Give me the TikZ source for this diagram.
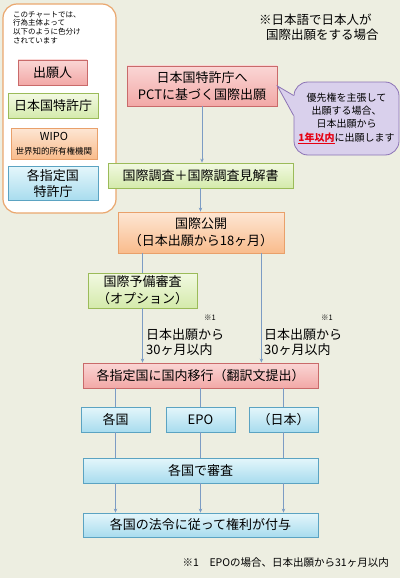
\documentclass[tikz,border=0pt]{standalone}
\usepackage{fontspec}
\setmainfont{Noto Sans CJK JP}
\usetikzlibrary{arrows.meta,calc}
\definecolor{bgbeige}{HTML}{EDEEE1}
\definecolor{pinktop}{HTML}{FAD6D5}
\definecolor{pinkbot}{HTML}{F2A8A6}
\definecolor{pinkline}{HTML}{C96A6A}
\definecolor{greentop}{HTML}{F2F9E2}
\definecolor{greenbot}{HTML}{D4EAAB}
\definecolor{greenline}{HTML}{9BBB59}
\definecolor{orangetop}{HTML}{FDE6D4}
\definecolor{orangebot}{HTML}{F9BC8C}
\definecolor{orangeline}{HTML}{E9A06A}
\definecolor{bluetop}{HTML}{E4F6FB}
\definecolor{bluebot}{HTML}{A8DCEE}
\definecolor{blueline}{HTML}{5BA3C2}
\definecolor{notefill}{HTML}{D9D0EC}
\definecolor{noteline}{HTML}{8C73B5}
\definecolor{frameline}{HTML}{EAA76E}
\definecolor{linkblue}{HTML}{7C9CC4}
\definecolor{alertred}{HTML}{E60012}

\begin{document}
\begin{tikzpicture}[
  x=1pt, y=-1pt,
  box/.style={rectangle, line width=0.8pt, inner sep=0pt, align=center,
              font=\fontsize{13}{17}\selectfont},
  applicant/.style={box, draw=pinkline, top color=pinktop, bottom color=pinkbot},
  jpo/.style={box, draw=greenline, top color=greentop, bottom color=greenbot},
  wipo/.style={box, draw=orangeline, top color=orangetop, bottom color=orangebot},
  office/.style={box, draw=blueline, top color=bluetop, bottom color=bluebot},
  remark/.style={inner sep=0pt, align=left, font=\fontsize{13}{15}\selectfont},
  flow/.style={-{Stealth[length=4pt,width=3.5pt]}, draw=linkblue, line width=0.8pt},
  tie/.style={draw=linkblue, line width=0.8pt},
]
\fill[bgbeige] (0,0) rectangle (400,578);
\useasboundingbox (0,0) rectangle (400,578);

% Legend
\node[rectangle, draw=frameline, line width=1.2pt, fill=white, rounded corners=14pt,
      minimum width=113pt, minimum height=209pt] (legend) at (59.5,108.5) {};
\node[remark, anchor=north west, font=\fontsize{7.5}{8.8}\selectfont] (legendnote) at (13,11)
  {このチャートでは、\\行為主体よって\\以下のように色分け\\されています};
\node[applicant, minimum width=69pt, minimum height=25pt] (lgapp) at (52.5,72.5) {出願人};
\node[jpo, minimum width=90pt, minimum height=25pt] (lgjpo) at (53,106) {日本国特許庁};
\node[wipo, minimum width=86pt, minimum height=31pt, font=\fontsize{8.5}{14}\selectfont] (lgwipo) at (54,143.5)
  {{\fontsize{11}{14}\selectfont WIPO}\\世界知的所有権機関};
\node[office, minimum width=90pt, minimum height=34pt, font=\fontsize{13}{16}\selectfont] (lgoffice) at (53,183.5)
  {各指定国\\特許庁};

% Title
\node[remark, anchor=north west, font=\fontsize{12.5}{14.5}\selectfont] (title) at (259,14)
  {※日本語で日本人が\\\hspace{7pt}国際出願をする場合};

% Main flow
\node[applicant, minimum width=150pt, minimum height=40pt] (apply) at (202,86)
  {日本国特許庁へ\\PCTに基づく国際出願};
\node[rectangle, draw=noteline, line width=0.8pt, fill=notefill, rounded corners=14pt,
      minimum width=105pt, minimum height=73pt, inner sep=0pt, align=center,
      font=\fontsize{10}{13.3}\selectfont] (note) at (346.5,118.5)
  {優先権を主張して\\出願する場合、\\日本出願から\\{\color{alertred}\textbf{\underline{1年以内}}}に出願します};
\fill[notefill] (apply.east) -- ($(note.west)+(0,-23)$) -- ($(note.west)+(2.5,-23)$)
  -- ($(note.west)+(2.5,-3)$) -- ($(note.west)+(0,-3)$) -- cycle;
\draw[noteline, line width=0.8pt] ($(note.west)+(0,-23)$) -- (apply.east) -- ($(note.west)+(0,-3)$);

\node[jpo, minimum width=185pt, minimum height=25pt] (search) at (200.5,175.5)
  {国際調査＋国際調査見解書};
\node[wipo, minimum width=166pt, minimum height=41pt] (publish) at (201,232.5)
  {国際公開\\（日本出願から18ヶ月）};
\node[jpo, minimum width=109pt, minimum height=35pt] (exam) at (142.5,290.5)
  {国際予備審査\\（オプション）};
\coordinate (drop) at ($(publish.south east)+(-23,0)$);

\node[inner sep=0pt, font=\fontsize{7.5}{9}\selectfont] (starL) at (210,318) {※1};
\node[inner sep=0pt, font=\fontsize{7.5}{9}\selectfont] (starR) at (327,318) {※1};
\node[remark, anchor=north west] (limitL) at (146,328) {日本出願から\\30ヶ月以内};
\node[remark, anchor=north west] (limitR) at (264,328) {日本出願から\\30ヶ月以内};

\node[applicant, minimum width=235pt, minimum height=25pt] (enter) at (200.5,375.5)
  {各指定国に国内移行（翻訳文提出）};

% Designated offices
\node[office, minimum width=69pt, minimum height=25pt] (each) at (115.5,419.5) {各国};
\node[office, minimum width=69pt, minimum height=25pt] (epo) at (200.5,419.5) {EPO};
\node[office, minimum width=69pt, minimum height=25pt] (japan) at (283.5,419.5) {（日本）};
\node[office, minimum width=235pt, minimum height=25pt] (review) at (200.5,470.5) {各国で審査};
\node[office, minimum width=235pt, minimum height=24pt] (grant) at (200.5,525)
  {各国の法令に従って権利が付与};

\node[inner sep=0pt, anchor=east, font=\fontsize{10.5}{12}\selectfont] (footnote) at (389,563)
  {※1　EPOの場合、日本出願から31ヶ月以内};

% Connectors
\draw[flow] (apply.south) -- (apply.south |- search.north);
\draw[flow] (search.south) -- (search.south |- publish.north);
\draw[tie] (publish.south -| exam) -- (exam.north);
\draw[flow] (exam.south) -- (exam.south |- enter.north);
\draw[flow] (drop) -- (drop |- enter.north);
\foreach \c in {each,epo,japan}{
  \draw[tie] (enter.south -| \c) -- (\c.north);
  \draw[tie] (\c.south) -- (\c.south |- review.north);
  \draw[flow] (review.south -| \c) -- (\c |- grant.north);
}
\end{tikzpicture}
\end{document}
